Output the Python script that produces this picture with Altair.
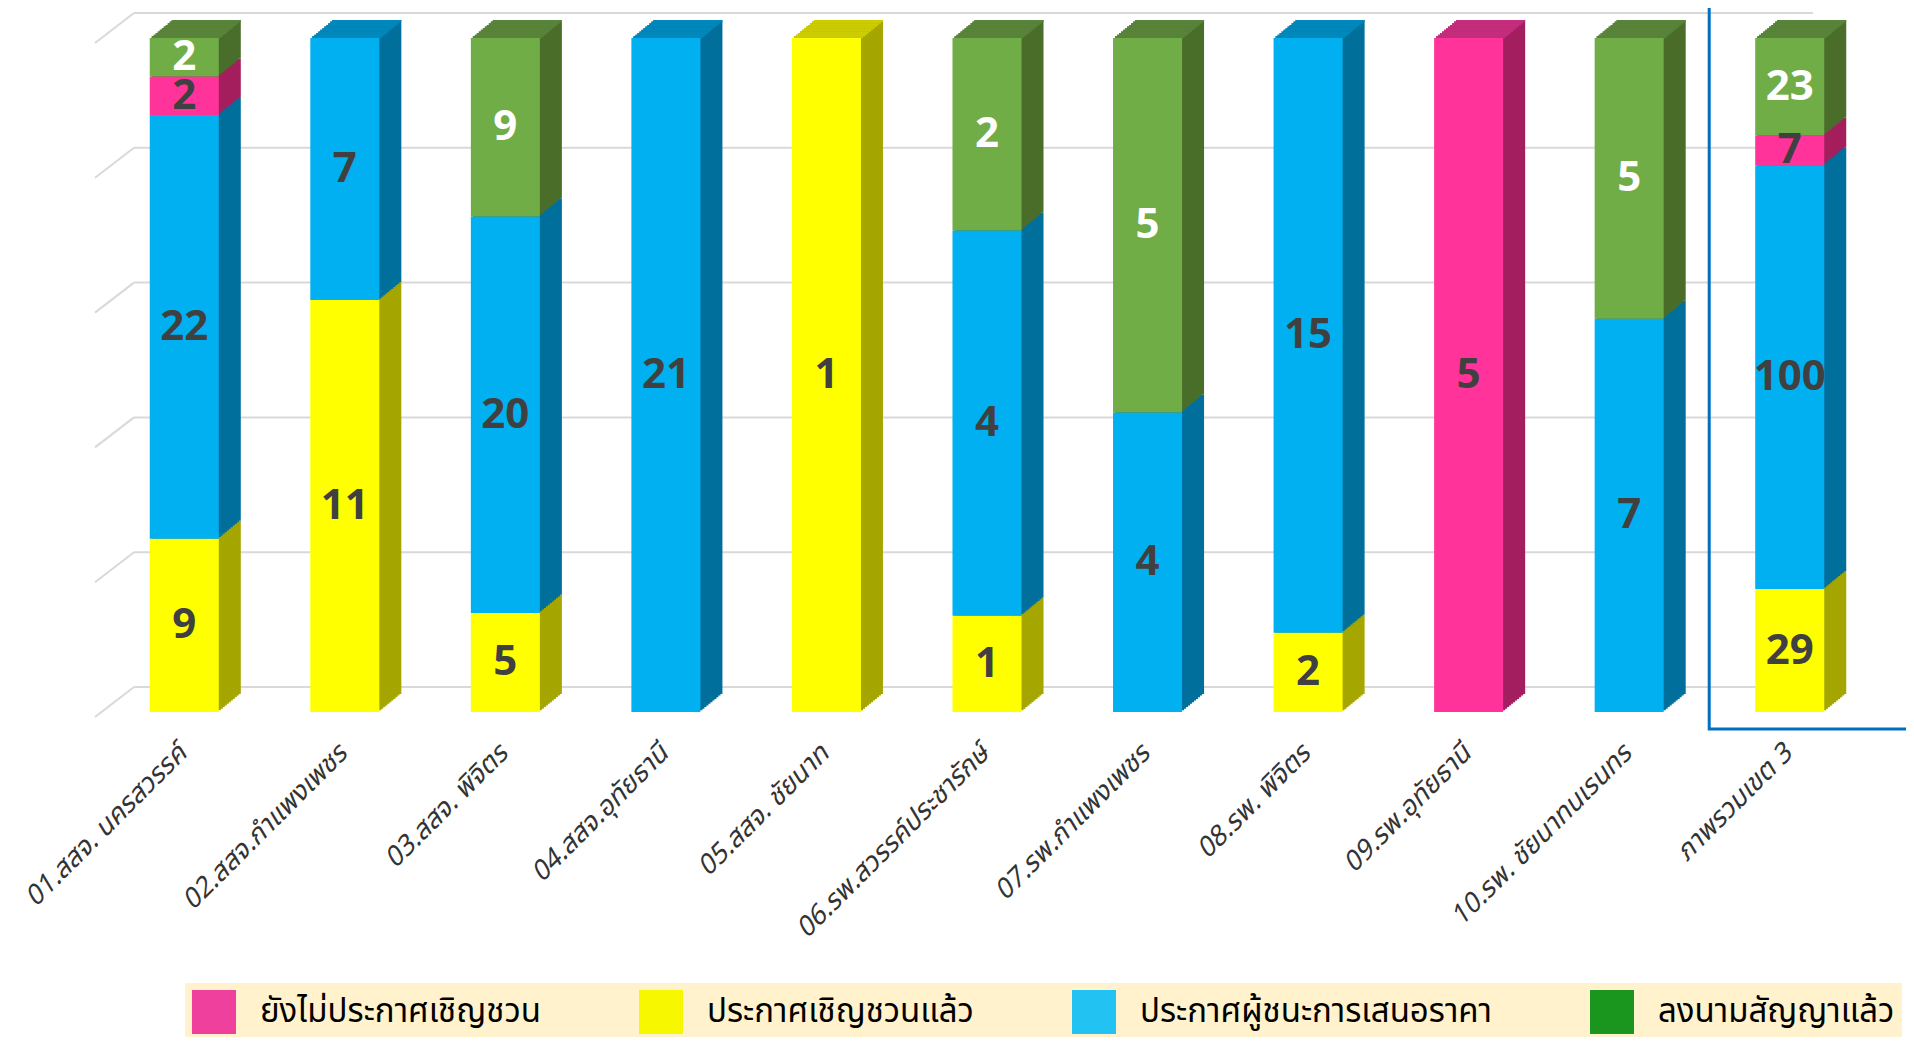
import altair as alt
import pandas as pd

categories = ["01.สสจ. นครสวรรค์", "02.สสจ.กำแพงเพชร", "03.สสจ. พิจิตร", "04.สสจ.อุทัยธานี",
              "05.สสจ. ชัยนาท", "06.รพ.สวรรค์ประชารักษ์", "07.รพ.กำแพงเพชร", "08.รพ. พิจิตร",
              "09.รพ.อุทัยธานี", "10.รพ. ชัยนาทนเรนทร", "ภาพรวมเขต 3"]
series = ["ยังไม่ประกาศเชิญชวน", "ประกาศเชิญชวนแล้ว", "ประกาศผู้ชนะการเสนอราคา", "ลงนามสัญญาแล้ว"]
# stack order bottom -> top
stack_order = [2, 0, 1, 3]

not_announced = [2, 0, 0, 0, 0, 0, 0, 0, 5, 0, 7]
announced = [9, 11, 5, 0, 1, 1, 0, 2, 0, 0, 29]
winner = [22, 7, 20, 21, 0, 4, 4, 15, 0, 7, 100]
signed = [2, 0, 9, 0, 0, 2, 5, 0, 0, 5, 23]

front_colors = ["#ff3399", "#ffff00", "#00b0f0", "#70ad47"]
side_colors = ["#a41f5f", "#a6a600", "#006f9b", "#4a6e2a"]
top_colors = ["#c42c7c", "#cccc00", "#0088bc", "#58843a"]
legend_colors = ["#f0409e", "#f7f700", "#22c2f2", "#1a961e"]

grid_levels = [0, 0.2, 0.4, 0.6, 0.8, 1.0]

THAI_FONT = "Noto Sans Thai, Noto Sans, DejaVu Sans, sans-serif"

rows = []
for ci, c in enumerate(categories):
    for si, (s, vals) in enumerate(zip(series, [not_announced, announced, winner, signed])):
        if vals[ci] > 0:
            rows.append({"cat": c, "series": s, "value": vals[ci], "ord": stack_order[si]})
df = pd.DataFrame(rows)
grid_df = pd.DataFrame({"g": grid_levels})
legend_df = pd.DataFrame({"series": series})

xscale = alt.Scale(domain=categories, paddingInner=0.57, paddingOuter=0.285)
yscale = alt.Scale(domain=[0, 1], nice=False, zero=True)

AX = alt.Axis(title=None, labelAngle=-45, labelAlign="right", labelBaseline="top",
              labelFontSize=27, labelFontStyle="italic", labelColor="#333333",
              labelFont=THAI_FONT, labelPadding=28, labelOffset=-11, labelLimit=0,
              domain=False, ticks=False, grid=False)

X = alt.X("cat:N", sort=categories, scale=xscale, axis=AX)

base = alt.Chart(df).transform_stack(
    stack="value", groupby=["cat"], as_=["y0", "y1"], offset="normalize",
    sort=[alt.SortField("ord", order="ascending")]
)

N = 11
DX = 2.0
DY = 1.64

layers = []

# hidden legend carrier
layers.append(
    alt.Chart(legend_df).mark_point(filled=True, shape="square", opacity=1, size=10).encode(
        x=alt.X(datum=categories[0], scale=xscale, axis=AX),
        y=alt.Y(datum=0.05, scale=yscale, axis=None),
        color=alt.Color("series:N", scale=alt.Scale(domain=series, range=legend_colors),
                        legend=alt.Legend(orient="none", legendX=81, legendY=945, direction="horizontal",
                                          title=None, symbolType="square", symbolSize=1936,
                                          symbolStrokeWidth=0, labelFontSize=33, labelFont=THAI_FONT,
                                          labelColor="#000000", labelLimit=0, labelOffset=24,
                                          columnPadding=98, fillColor="#fff2cc", padding=7))
    )
)

# back gridlines
layers.append(
    alt.Chart(grid_df).mark_rule(yOffset=-25, color="#d9d9d9", strokeWidth=2).encode(
        y=alt.Y("g:Q", scale=yscale, axis=None), x=alt.value(30), x2=alt.value(1709)
    )
)
layers.append(
    alt.Chart(grid_df).mark_rule(yOffset=5, y2Offset=-25, color="#d9d9d9", strokeWidth=2).encode(
        y=alt.Y("g:Q", scale=yscale, axis=None), y2="g:Q", x=alt.value(-9), x2=alt.value(30)
    )
)

# side extrusion
for k in range(N, 0, -1):
    layers.append(
        base.mark_bar(xOffset=k * DX, yOffset=-k * DY, y2Offset=-k * DY).encode(
            x=X, y=alt.Y("y0:Q", scale=yscale, axis=None), y2="y1:Q",
            color=alt.Color("series:N", scale=alt.Scale(domain=series, range=side_colors), legend=None)
        )
    )
# top caps
for k in range(N, 0, -1):
    layers.append(
        base.transform_filter("datum.y1 > 0.9999").mark_bar(
            xOffset=k * DX, yOffset=-k * DY, y2Offset=-(k - 1) * DY + 0.3
        ).encode(
            x=X, y=alt.Y("y1:Q", scale=yscale, axis=None), y2="y1:Q",
            color=alt.Color("series:N", scale=alt.Scale(domain=series, range=top_colors), legend=None)
        )
    )

# front faces
layers.append(
    base.mark_bar().encode(
        x=X,
        y=alt.Y("y0:Q", scale=yscale, axis=None), y2="y1:Q",
        color=alt.Color("series:N", scale=alt.Scale(domain=series, range=front_colors), legend=None)
    )
)

# value labels
layers.append(
    base.transform_calculate(mid="(datum.y0 + datum.y1) / 2").mark_text(
        font="Noto Sans", fontSize=42, fontWeight="bold", baseline="middle", align="center"
    ).encode(
        x=X, y=alt.Y("mid:Q", scale=yscale, axis=None), text="value:Q",
        color=alt.condition(alt.datum.series == "ลงนามสัญญาแล้ว", alt.value("#ffffff"), alt.value("#404040"))
    )
)

# highlight box around the overall column
layers.append(
    alt.Chart(pd.DataFrame({"c": [categories[-1]]})).mark_rect(
        fill=None, stroke="#0070c0", strokeWidth=3, xOffset=-46, yOffset=-32, y2Offset=17
    ).encode(
        x=alt.X("c:N", scale=xscale, axis=AX, bandPosition=0),
        x2=alt.value(1900),
        y=alt.Y(datum=1, scale=yscale, axis=None), y2=alt.datum(0)
    )
)

chart = alt.layer(*layers).resolve_scale(color="independent").properties(
    width=1766, height=674,
    autosize=alt.AutoSizeParams(type="none"),
    padding={"left": 96, "top": 30, "right": 36, "bottom": 325},
    background="white"
).configure_view(stroke=None)

chart.save("out.html", embed_options={"renderer": "svg", "actions": False})
